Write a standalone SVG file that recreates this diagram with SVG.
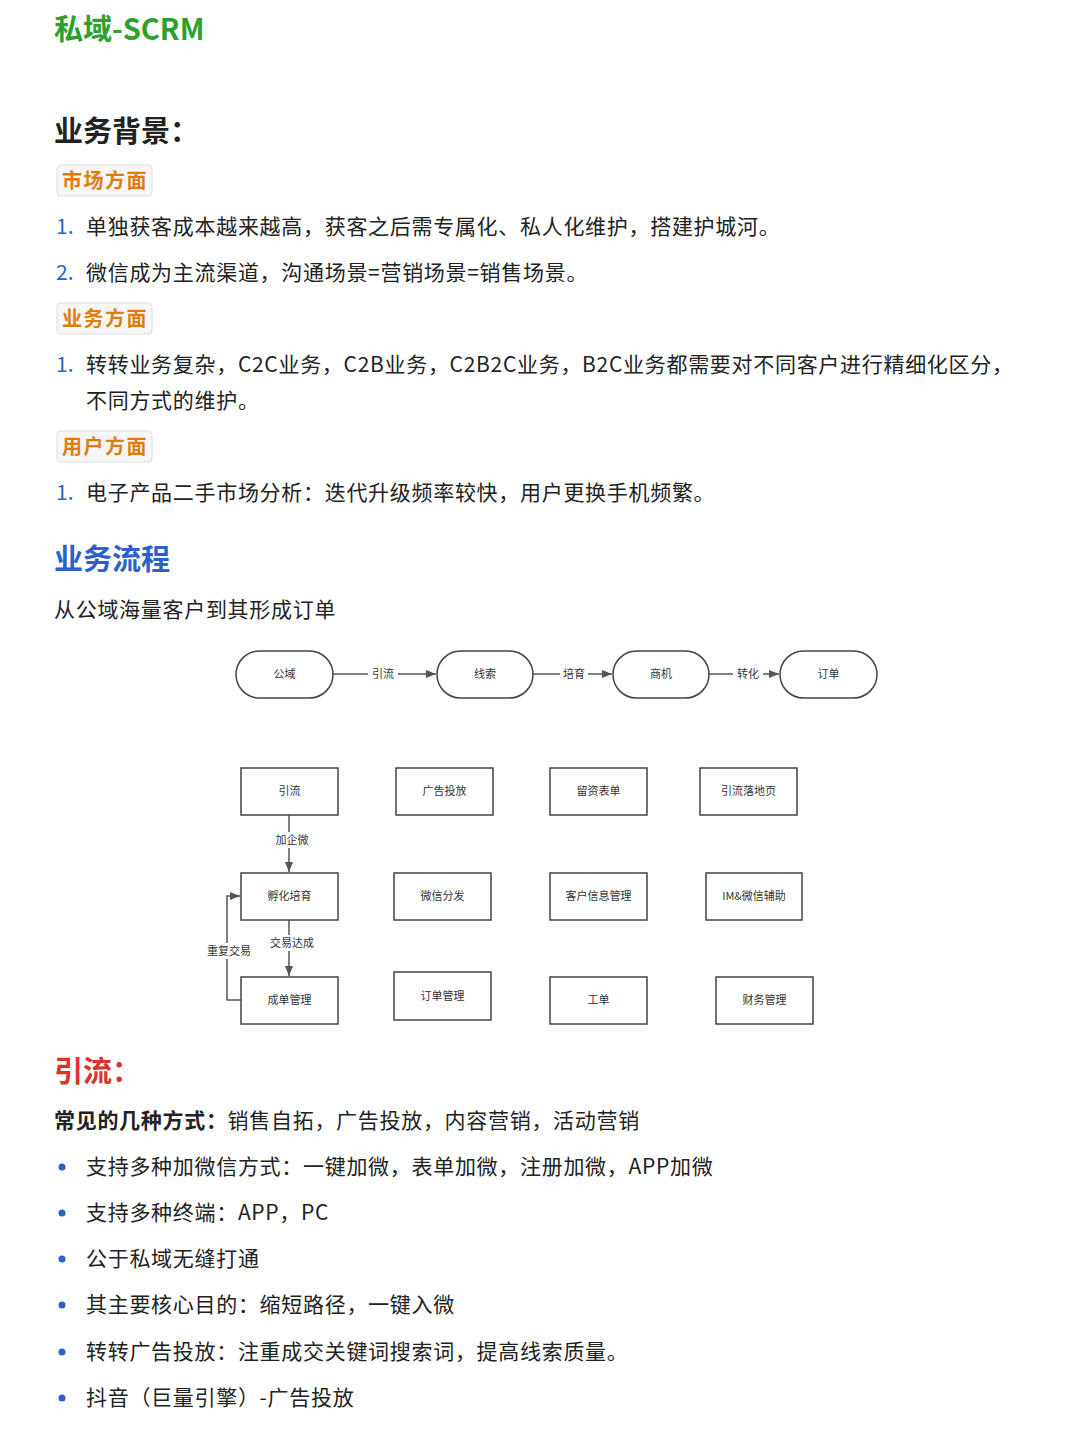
<svg xmlns="http://www.w3.org/2000/svg" width="1080" height="1439" viewBox="0 0 1080 1439">
<defs>
<style>
text{font-family:"Noto Sans CJK SC","Noto Sans",sans-serif;}
.h{font-size:29px;font-weight:bold;}
.b{font-size:21px;fill:#222;letter-spacing:0.7px;}
.n{font-size:21px;fill:#2a62c9;}
.tag{fill:#f6f6f6;stroke:#ddd;stroke-width:1;}
.tt{font-size:20px;font-weight:bold;fill:#e07b0c;letter-spacing:1.5px;}
.nd{fill:#fff;stroke:#444;stroke-width:1.5;}
.nt{font-size:11px;fill:#333;text-anchor:middle;}
.ln{stroke:#555;stroke-width:1.5;fill:none;}
.dot{fill:#2a62c9;}
</style>
<marker id="a" viewBox="0 0 10 10" refX="10" refY="5" markerWidth="7" markerHeight="7" orient="auto"><path d="M0,1 L10,5 L0,9 z" fill="#555"/></marker>
</defs>
<rect width="1080" height="1439" fill="#fff"/>
<text x="54" y="40" class="h" fill="#2ea02e">私域-SCRM</text>
<text x="54" y="142" class="h" fill="#222">业务背景：</text>
<rect class="tag" x="57" y="165" width="95" height="31" rx="4"/><text x="62" y="188" class="tt">市场方面</text>
<text x="56" y="234" class="n">1.</text><text x="86" y="234" class="b">单独获客成本越来越高，获客之后需专属化、私人化维护，搭建护城河。</text>
<text x="56" y="280" class="n">2.</text><text x="86" y="280" class="b">微信成为主流渠道，沟通场景=营销场景=销售场景。</text>
<rect class="tag" x="57" y="303" width="95" height="31" rx="4"/><text x="62" y="326" class="tt">业务方面</text>
<text x="56" y="372" class="n">1.</text><text x="86" y="372" class="b">转转业务复杂，C2C业务，C2B业务，C2B2C业务，B2C业务都需要对不同客户进行精细化区分，</text>
<text x="86" y="408" class="b">不同方式的维护。</text>
<rect class="tag" x="57" y="431" width="95" height="31" rx="4"/><text x="62" y="454" class="tt">用户方面</text>
<text x="56" y="500" class="n">1.</text><text x="86" y="500" class="b">电子产品二手市场分析：迭代升级频率较快，用户更换手机频繁。</text>
<text x="54" y="570" class="h" fill="#2a62c9">业务流程</text>
<text x="54" y="617" class="b">从公域海量客户到其形成订单</text>

<g id="connectors">
<path class="ln" d="M333,674 H436" marker-end="url(#a)"/>
<path class="ln" d="M533,674 H612" marker-end="url(#a)"/>
<path class="ln" d="M709,674 H779" marker-end="url(#a)"/>
<path class="ln" d="M289,815 V872" marker-end="url(#a)"/>
<path class="ln" d="M289,920 V976" marker-end="url(#a)"/>
<path class="ln" d="M241,1000 H227 V896 H240" marker-end="url(#a)"/>
<rect x="368" y="666" width="30" height="16" fill="#fff"/><text x="383" y="678" class="nt">引流</text>
<rect x="560" y="666" width="28" height="16" fill="#fff"/><text x="574" y="678" class="nt">培育</text>
<rect x="733" y="666" width="30" height="16" fill="#fff"/><text x="748" y="678" class="nt">转化</text>
<rect x="272" y="832" width="38" height="16" fill="#fff"/><text x="292" y="844" class="nt">加企微</text>
<rect x="266" y="935" width="52" height="16" fill="#fff"/><text x="292" y="947" class="nt">交易达成</text>
<rect x="205" y="943" width="48" height="16" fill="#fff"/><text x="229" y="955" class="nt">重复交易</text>
</g>

<g id="n1"><rect class="nd" x="236" y="651" width="97" height="47" rx="23.5"/><text x="284.5" y="678" class="nt">公域</text></g>
<g id="n2"><rect class="nd" x="437" y="651" width="96" height="47" rx="23.5"/><text x="485" y="678" class="nt">线索</text></g>
<g id="n3"><rect class="nd" x="613" y="651" width="96" height="47" rx="23.5"/><text x="661" y="678" class="nt">商机</text></g>
<g id="n4"><rect class="nd" x="780" y="651" width="97" height="47" rx="23.5"/><text x="828.5" y="678" class="nt">订单</text></g>

<g id="b1"><rect class="nd" x="241" y="768" width="97" height="47"/><text x="289.5" y="795" class="nt">引流</text></g>
<g id="b2"><rect class="nd" x="396" y="768" width="97" height="47"/><text x="444.5" y="795" class="nt">广告投放</text></g>
<g id="b3"><rect class="nd" x="550" y="768" width="97" height="47"/><text x="598.5" y="795" class="nt">留资表单</text></g>
<g id="b4"><rect class="nd" x="700" y="768" width="97" height="47"/><text x="748.5" y="795" class="nt">引流落地页</text></g>
<g id="b5"><rect class="nd" x="241" y="873" width="97" height="47"/><text x="289.5" y="900" class="nt">孵化培育</text></g>
<g id="b6"><rect class="nd" x="394" y="873" width="97" height="47"/><text x="442.5" y="900" class="nt">微信分发</text></g>
<g id="b7"><rect class="nd" x="550" y="873" width="97" height="47"/><text x="598.5" y="900" class="nt">客户信息管理</text></g>
<g id="b8"><rect class="nd" x="706" y="873" width="96" height="47"/><text x="754" y="900" class="nt">IM&amp;微信辅助</text></g>
<g id="b9"><rect class="nd" x="241" y="977" width="97" height="47"/><text x="289.5" y="1004" class="nt">成单管理</text></g>
<g id="b10"><rect class="nd" x="394" y="972" width="97" height="48"/><text x="442.5" y="1000" class="nt">订单管理</text></g>
<g id="b11"><rect class="nd" x="550" y="977" width="97" height="47"/><text x="598.5" y="1004" class="nt">工单</text></g>
<g id="b12"><rect class="nd" x="716" y="977" width="97" height="47"/><text x="764.5" y="1004" class="nt">财务管理</text></g>

<text x="54" y="1082" class="h" fill="#d9342b">引流：</text>
<text x="54" y="1128" class="b"><tspan font-weight="bold">常见的几种方式：</tspan>销售自拓，广告投放，内容营销，活动营销</text>
<circle class="dot" cx="62" cy="1167" r="3.5"/><text x="86" y="1174" class="b">支持多种加微信方式：一键加微，表单加微，注册加微，APP加微</text>
<circle class="dot" cx="62" cy="1213" r="3.5"/><text x="86" y="1220" class="b">支持多种终端：APP，PC</text>
<circle class="dot" cx="62" cy="1259" r="3.5"/><text x="86" y="1266" class="b">公于私域无缝打通</text>
<circle class="dot" cx="62" cy="1305" r="3.5"/><text x="86" y="1312" class="b">其主要核心目的：缩短路径，一键入微</text>
<circle class="dot" cx="62" cy="1352" r="3.5"/><text x="86" y="1359" class="b">转转广告投放：注重成交关键词搜索词，提高线索质量。</text>
<circle class="dot" cx="62" cy="1398" r="3.5"/><text x="86" y="1405" class="b">抖音（巨量引擎）-广告投放</text>
</svg>
